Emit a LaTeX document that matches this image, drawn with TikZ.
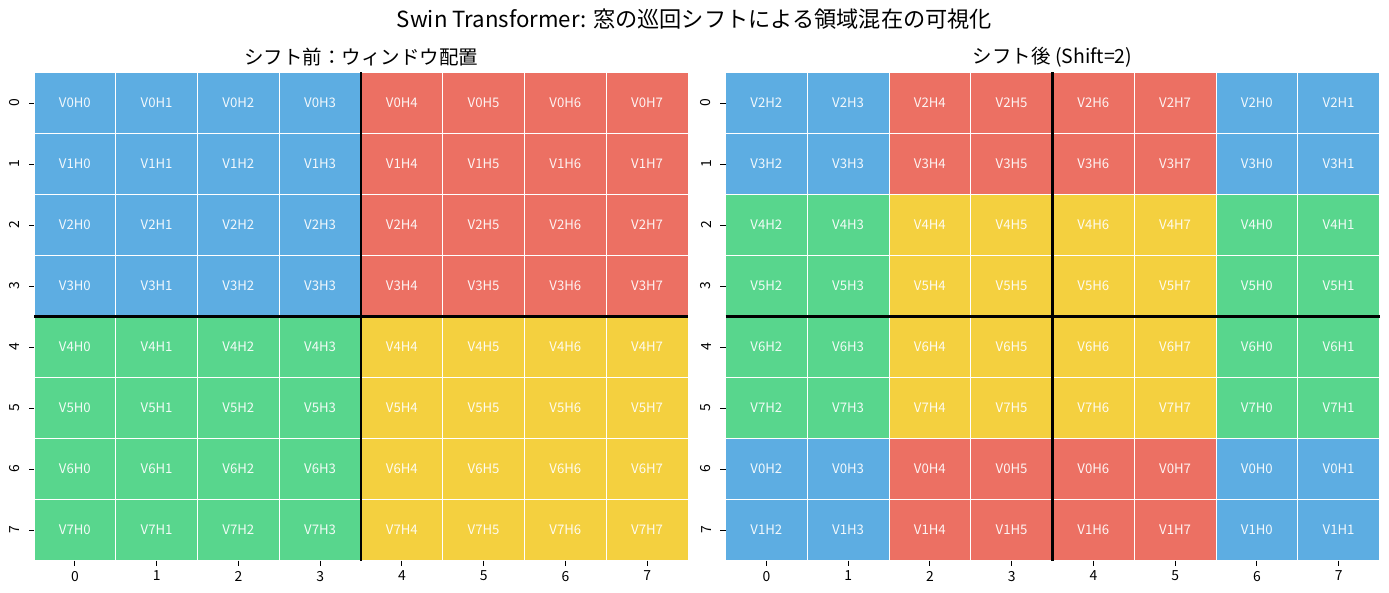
\documentclass[tikz,border=0pt]{standalone}
\usepackage{fontspec}
\setmainfont{Noto Sans CJK JP}
\usetikzlibrary{positioning}

\definecolor{winblue}{HTML}{5DADE2}
\definecolor{winred}{HTML}{EC7063}
\definecolor{wingreen}{HTML}{58D68D}
\definecolor{winyellow}{HTML}{F4D03F}

\begin{document}
\begin{tikzpicture}[x=1pt,y=-1pt,
    cell/.style={draw=white, line width=0.7pt, minimum width=81.75pt, minimum height=61pt,
      inner sep=0pt, outer sep=0pt, text=white, text opacity=0.92,
      font=\fontsize{13.2}{13.2}\selectfont},
    winsep/.style={line width=2.8pt, black},
    axtick/.style={line width=0.9pt, black},
    xlab/.style={font=\fontsize{13.9}{13.9}\selectfont, inner sep=5pt, anchor=north},
    ylab/.style={font=\fontsize{13.9}{13.9}\selectfont, inner sep=8.5pt, rotate=90, anchor=south},
    paneltitle/.style={font=\fontsize{19.5}{19.5}\selectfont, inner sep=0pt}]
  \useasboundingbox (0,0) rectangle (1389,593);

  \node[font=\fontsize{22.2}{22.2}\selectfont, inner sep=0pt] (title) at (694.5,19)
    {Swin Transformer: 窓の巡回シフトによる領域混在の可視化};

  %% L = prima dello shift, R = dopo lo shift di 2
  \foreach \p/\xo/\s in {L/34/0,R/725.5/2}{
    \foreach \r in {0,...,7}{
      \foreach \c in {0,...,7}{
        \pgfmathtruncatemacro\v{mod(\r+\s,8)}
        \pgfmathtruncatemacro\h{mod(\c+\s,8)}
        \ifnum\v<4 \ifnum\h<4 \def\col{winblue}\else\def\col{winred}\fi
        \else \ifnum\h<4 \def\col{wingreen}\else\def\col{winyellow}\fi\fi
        \node[cell, fill=\col] (\p-\r-\c) at (\xo+\c*81.75+40.875, 72.5+\r*61+30.5) {V\v H\h};
      }
    }
  }

  \node[paneltitle] (Ltitle) at (361,57) {シフト前：ウィンドウ配置};
  \node[paneltitle] (Rtitle) at (1052.5,57) {シフト後 (Shift=2)};

  %% bordi delle finestre
  \foreach \p in {L,R}{
    \draw[winsep] (\p-0-3.north east) -- (\p-7-3.south east);
    \draw[winsep] (\p-3-0.south west) -- (\p-3-7.south east);
  }

  %% assi
  \foreach \p in {L,R}{
    \foreach \i in {0,...,7}{
      \draw[axtick] (\p-7-\i.south) -- ++(0,5) node[xlab] (\p-x\i) {\i};
      \draw[axtick] (\p-\i-0.west) -- ++(-5.5,0) node[ylab] (\p-y\i) {\i};
    }
  }
\end{tikzpicture}
\end{document}
